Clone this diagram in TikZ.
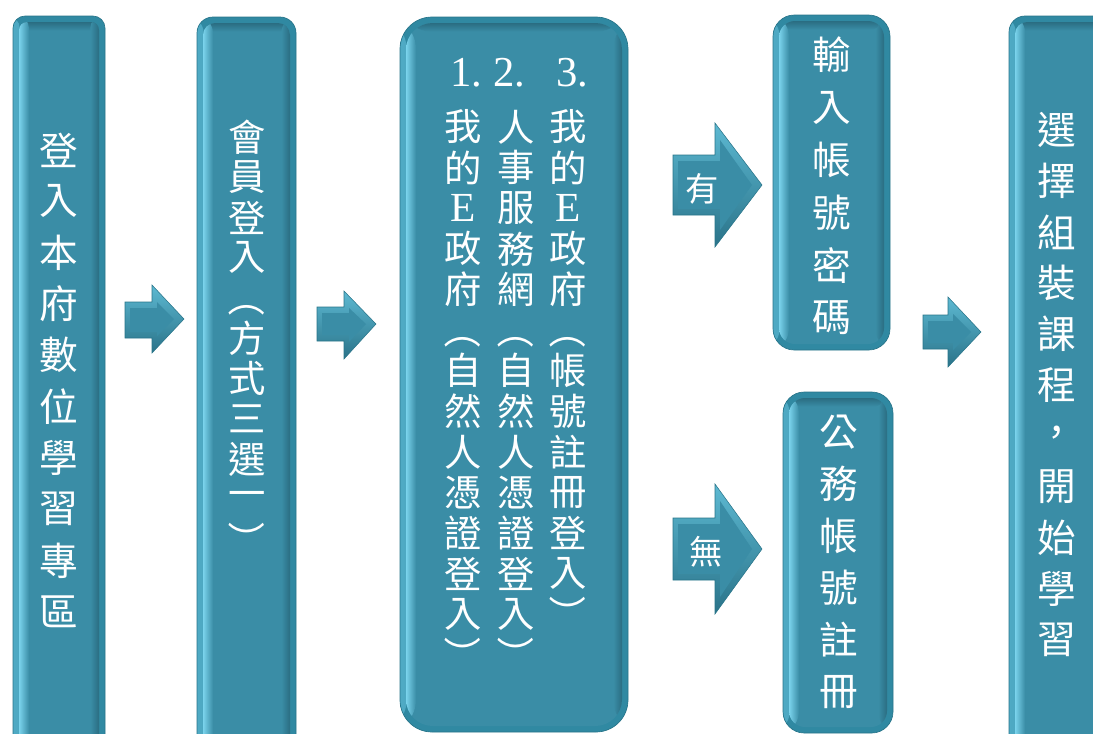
\documentclass[tikz,border=0pt]{standalone}
\usepackage{fontspec}
\newfontfamily\cjk{Noto Sans CJK TC}
\newfontfamily\lat{Liberation Serif}
\usetikzlibrary{fit}
\definecolor{rim}{HTML}{3089A2}
\definecolor{rimlite}{HTML}{4FAAC4}
\definecolor{rimline}{HTML}{287489}
\definecolor{face}{HTML}{3A8DA6}
\definecolor{hilite}{HTML}{7AD3EC}
\definecolor{shadowc}{HTML}{2A6D82}
\definecolor{arrowlite}{HTML}{5DB9D2}
\definecolor{arrowdark}{HTML}{2A7389}
\tikzset{
  bevelbox/.style 2 args={draw=rimline, line width=0.5pt, fill=rim, rounded corners=#1, inner sep=0pt,
    path picture={
      \shade[left color=rimlite, right color=rim] (path picture bounding box.south west) rectangle ([shift={(5pt,0pt)}]path picture bounding box.north west);
      \begin{scope}
        \clip[rounded corners=#2] ([shift={(4.5pt,-4.5pt)}]path picture bounding box.north west) rectangle ([shift={(-4.5pt,4.5pt)}]path picture bounding box.south east);
        \fill[face] (path picture bounding box.south west) rectangle (path picture bounding box.north east);
        \shade[top color=shadowc, bottom color=face] ([shift={(0pt,-4.5pt)}]path picture bounding box.north west) rectangle ([shift={(0pt,-11pt)}]path picture bounding box.north east);
        \shade[left color=hilite, right color=face] ([shift={(4.5pt,0pt)}]path picture bounding box.south west) rectangle ([shift={(12pt,0pt)}]path picture bounding box.north west);
        \shade[left color=face, right color=shadowc] ([shift={(-11pt,0pt)}]path picture bounding box.south east) rectangle ([shift={(-4.5pt,0pt)}]path picture bounding box.north east);
      \end{scope}
    }},
  glyph/.style={text=white, inner sep=0pt, font=\cjk\fontsize{29}{29}\selectfont},
  smallglyph/.style={glyph, font=\cjk\fontsize{28}{28}\selectfont},
  arrowglyph/.style={text=white, inner sep=0pt, font=\cjk\fontsize{25}{25}\selectfont},
  numtxt/.style={text=white, inner sep=0pt, font=\lat\fontsize{32}{32}\selectfont},
  arrowout/.style={top color=arrowlite, bottom color=arrowdark, draw=rimline, line width=0.4pt},
  arrowin/.style={fill=face},
}
\newcommand\lpar{\rotatebox{-90}{（}}
\newcommand\rpar{\rotatebox{-90}{）}}
\newcommand\bigE{\lat\fontsize{31}{31}\selectfont E}
% name, x0, xb, xt, shaft top, shaft bottom, head top, head bottom, tip y
\newcommand\blockarrow[9]{%
  \path[arrowout] (#2,#5) -- (#3,#5) -- (#3,#7) -- (#4,#9) -- (#3,#8) -- (#3,#6) -- (#2,#6) -- cycle;
  \path[arrowin] ({#2+5},{#5+6}) -- ({#3+5},{#5+6}) -- ({#3+5},{#7+17}) -- ({#4-10},#9) -- ({#3+5},{#8-17}) -- ({#3+5},{#6-6}) -- ({#2+5},{#6-6}) -- cycle;
  \coordinate (#1) at ({(#2+#3)/2+2},#9);
}
% style, prefix, x, first y, step, list
\newcommand\vcol[6]{\foreach \c [count=\i] in {#6}{\node[#1] (#2-\i) at (#3,{#4+(\i-1)*#5}) {\c};}}
\begin{document}
\begin{tikzpicture}[x=0.75pt,y=-0.75pt]
\useasboundingbox (0,0) rectangle (1093,733);
% boxes
\node[bevelbox={9pt}{6pt}, fit={(13,16) (105,760)}] (b1) {};
\node[bevelbox={12pt}{9pt}, fit={(197,17) (296,760)}] (b2) {};
\node[bevelbox={24pt}{20pt}, fit={(400,17) (628,732)}] (b3) {};
\node[bevelbox={16pt}{12pt}, fit={(773,15) (890,350)}] (b4) {};
\node[bevelbox={16pt}{12pt}, fit={(783,392) (893,733)}] (b5) {};
\node[bevelbox={12pt}{9pt}, fit={(1009,16) (1110,760)}] (b6) {};
% arrows
\blockarrow{a1}{125}{152}{184}{302}{338}{285}{353}{319}
\blockarrow{a2}{317}{344}{376}{307}{341}{291}{359}{324}
\blockarrow{a3}{673}{715}{762}{155}{215}{123}{247}{185}
\blockarrow{a4}{673}{715}{762}{518}{580}{484}{614}{549}
\blockarrow{a5}{923}{948}{981}{315}{349}{297}{367}{332}
\node[arrowglyph] (l3) at (702,189) {有};
\node[arrowglyph] (l4) at (706,552) {無};
% texts
\vcol{glyph}{t1}{59}{150}{51.3}{登,入,本,府,數,位,學,習,專,區}
\vcol{smallglyph}{t2}{247}{137}{40.3}{會,員,登,入,\lpar,方,式,三,選,一,\rpar}
\node[numtxt] (n1) at (466,73) {1.};
\node[numtxt] (n2) at (509,73) {2.};
\node[numtxt] (n3) at (572,73) {3.};
\vcol{smallglyph}{c1}{463}{127}{40.6}{我,的,\bigE,政,府,\lpar,自,然,人,憑,證,登,入,\rpar}
\vcol{smallglyph}{c2}{516}{127}{40.6}{人,事,服,務,網,\lpar,自,然,人,憑,證,登,入,\rpar}
\vcol{smallglyph}{c3}{568}{127}{40.6}{我,的,\bigE,政,府,\lpar,帳,號,註,冊,登,入,\rpar}
\vcol{glyph}{t4}{832}{55}{52.6}{輸,入,帳,號,密,碼}
\vcol{glyph}{t5}{839}{432}{52}{公,務,帳,號,註,冊}
\vcol{glyph}{t6}{1057}{130}{51}{選,擇,組,裝,課,程,，,開,始,學,習}
\end{tikzpicture}
\end{document}
